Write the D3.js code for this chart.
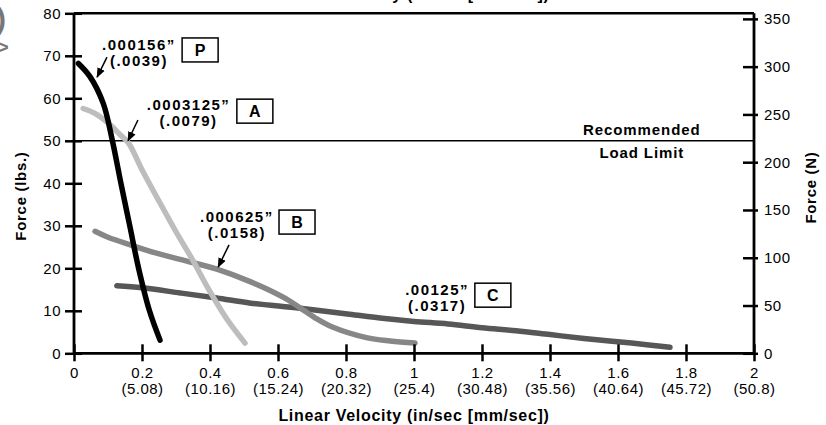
<!DOCTYPE html>
<html>
<head>
<meta charset="utf-8">
<script src="https://cdn.jsdelivr.net/npm/d3@7"></script>
<style>
body { margin: 0; background: #fff; }
svg text { font-family: "Liberation Sans", Arial, sans-serif; fill: #000; }
.tickText { font-size: 15px; letter-spacing: 0.5px; }
.axisTitle { font-size: 16px; font-weight: bold; letter-spacing: 0.7px; }
.note { font-size: 15px; font-weight: bold; letter-spacing: 1.5px; }
.limitText { font-size: 15px; font-weight: bold; letter-spacing: 0.9px; }
</style>
</head>
<body>
<div id="chart"></div>
<script>
// ---- chart values ----
var seriesNames = ["P", "A", "B", "C"];
var pitchInch = [".000156\u201d", ".0003125\u201d", ".000625\u201d", ".00125\u201d"];
var pitchMm = ["(.0039)", "(.0079)", "(.0158)", "(.0317)"];
var seriesColors = ["#000000", "#bdbdbd", "#878787", "#575757"];

// velocity (in/sec) and force (lbs.) per lead screw
var velP = [0.013, 0.047, 0.086, 0.113, 0.138, 0.164, 0.19, 0.222, 0.253];
var forceP = [68.2, 65.1, 58.8, 50, 40, 30, 20, 10, 3.1];
var velA = [0.027, 0.06, 0.1, 0.135, 0.16, 0.2, 0.25, 0.3, 0.35, 0.4, 0.45, 0.503];
var forceA = [57.6, 56.5, 54.2, 51.5, 49.5, 43.2, 35.8, 28.6, 21.8, 14.5, 8, 2.4];
var velB = [0.062, 0.1, 0.174, 0.224, 0.312, 0.42, 0.52, 0.615, 0.665, 0.71, 0.76, 0.86, 0.93, 1.003];
var forceB = [28.7, 27.3, 25.3, 24.0, 22.1, 19.8, 16.8, 13.2, 10.7, 8.3, 6.2, 3.7, 2.9, 2.4];
var velC = [0.126, 0.2, 0.312, 0.42, 0.52, 0.665, 0.81, 0.9, 1.0, 1.1, 1.2, 1.3, 1.4, 1.5, 1.64, 1.753];
var forceC = [15.9, 15.4, 14.2, 13, 11.8, 10.6, 9.2, 8.3, 7.5, 6.9, 6.0, 5.3, 4.4, 3.5, 2.4, 1.4];

// axis ticks
var xTicks = [0, 0.2, 0.4, 0.6, 0.8, 1, 1.2, 1.4, 1.6, 1.8, 2];
var xTickLabels = ["0", "0.2", "0.4", "0.6", "0.8", "1", "1.2", "1.4", "1.6", "1.8", "2"];
var xTickLabelsMm = ["", "(5.08)", "(10.16)", "(15.24)", "(20.32)", "(25.4)", "(30.48)", "(35.56)", "(40.64)", "(45.72)", "(50.8)"];
var yTicksLbs = [0, 10, 20, 30, 40, 50, 60, 70, 80];
var yTicksN = [0, 50, 100, 150, 200, 250, 300, 350];
var loadLimit = 50;
var lbsToN = 4.448;

// where each note sits, in data units: [text centre x, text y, box x, box y, arrow from x, from y, arrow to x, to y]
var noteSpots = [
    [0.191, 71.4, 0.318, 74.2, 0.097, 69.7, 0.068, 65.0],
    [0.337, 57.25, 0.479, 59.8, 0.188, 54.9, 0.159, 50.0],
    [0.479, 30.9, 0.603, 33.7, 0.456, 25.5, 0.424, 20.3],
    [1.068, 13.7, 1.179, 16.5, null, null, null, null]
];

var series = [
    {name: "P", vel: velP, force: forceP},
    {name: "A", vel: velA, force: forceA},
    {name: "B", vel: velB, force: forceB},
    {name: "C", vel: velC, force: forceC}
];

// ---- layout ----
var width = 826, height = 425;
var margin = {top: 13.3, right: 72, bottom: 71.7, left: 74};

var svg = d3.select("#chart").append("svg")
    .attr("width", width)
    .attr("height", height);

var xScale = d3.scaleLinear().domain([0, 2]).range([margin.left, width - margin.right]);
var yScale = d3.scaleLinear().domain([0, 80]).range([height - margin.bottom, margin.top]);
var yScaleN = d3.scaleLinear().domain([0, 80 * lbsToN]).range([height - margin.bottom, margin.top]);

// leftover bits of a clipped title at the top edge
svg.append("text")
    .attr("x", xScale(1))
    .attr("y", 0)
    .attr("text-anchor", "middle")
    .classed("axisTitle", true)
    .text("Linear Velocity (in/sec [mm/sec])");
svg.append("text").attr("x", -4).attr("y", 29)
    .style("font-size", "30px").style("font-weight", "bold").style("fill", "#777")
    .text(")");
svg.append("text").attr("x", -3).attr("y", 54)
    .style("font-size", "20px").style("font-weight", "bold").style("fill", "#777")
    .text(">");

// recommended load limit
svg.append("line")
    .attr("x1", xScale(0)).attr("x2", xScale(2))
    .attr("y1", yScale(loadLimit)).attr("y2", yScale(loadLimit))
    .style("stroke", "#000").style("stroke-width", 1.5);
svg.append("text")
    .attr("x", xScale(1.67)).attr("y", yScale(loadLimit) - 6)
    .attr("text-anchor", "middle").classed("limitText", true)
    .text("Recommended");
svg.append("text")
    .attr("x", xScale(1.67)).attr("y", yScale(loadLimit) + 17)
    .attr("text-anchor", "middle").classed("limitText", true)
    .text("Load Limit");

// curves
var line = d3.line()
    .x(function(d){ return xScale(d[0]); })
    .y(function(d){ return yScale(d[1]); })
    .curve(d3.curveCatmullRom.alpha(0.5));

// draw C first so the lighter ones overlay the way they do in the picture
var drawOrder = [3, 2, 1, 0];
drawOrder.forEach(function(i){
    var s = series[i];
    var pts = s.vel.map(function(v, j){ return [v, s.force[j]]; });
    svg.append("path")
        .attr("d", line(pts))
        .style("fill", "none")
        .style("stroke", seriesColors[i])
        .style("stroke-width", 5.5)
        .style("stroke-linecap", "round");
});

// frame top line
svg.append("line")
    .attr("x1", xScale(0)).attr("x2", xScale(2))
    .attr("y1", yScale(80)).attr("y2", yScale(80))
    .style("stroke", "#000").style("stroke-width", 2.5);

// left axis
var leftAxis = svg.append("g")
    .attr("transform", "translate(" + xScale(0) + ",0)")
    .call(d3.axisLeft(yScale).tickValues(yTicksLbs).tickFormat(d3.format("d")).tickSize(9).tickPadding(4));
leftAxis.selectAll(".tick line").attr("x2", -9).attr("x1", 8).style("stroke-width", 2.5);

// right axis
var rightAxis = svg.append("g")
    .attr("transform", "translate(" + xScale(2) + ",0)")
    .call(d3.axisRight(yScaleN).tickValues(yTicksN).tickFormat(d3.format("d")).tickSize(4).tickPadding(6));
rightAxis.selectAll(".tick line").attr("x1", -11).attr("x2", 4).style("stroke-width", 2.5);

// bottom axis
var bottomAxis = svg.append("g")
    .attr("transform", "translate(0," + yScale(0) + ")")
    .call(d3.axisBottom(xScale).tickValues(xTicks).tickFormat(function(d, i){ return xTickLabels[i]; }).tickSize(8).tickPadding(6));
bottomAxis.selectAll(".tick line").attr("y1", -9).attr("y2", 8).style("stroke-width", 2.5);
bottomAxis.selectAll(".tick").append("text")
    .attr("y", 41)
    .attr("fill", "#000")
    .classed("tickText", true)
    .text(function(d, i){ return xTickLabelsMm[i]; });

[leftAxis, rightAxis, bottomAxis].forEach(function(ax){
    ax.select(".domain").style("stroke-width", 2.8).attr("d", null);
    ax.selectAll("text").classed("tickText", true).attr("font-family", null).attr("font-size", null);
});
leftAxis.select(".domain").attr("d", "M0," + yScale(0) + "V" + yScale(80));
rightAxis.select(".domain").attr("d", "M0," + yScale(0) + "V" + yScale(80));
bottomAxis.select(".domain").attr("d", "M" + xScale(0) + ",0H" + xScale(2));

// axis titles
svg.append("text")
    .attr("x", xScale(1)).attr("y", 421)
    .attr("text-anchor", "middle").classed("axisTitle", true)
    .text("Linear Velocity (in/sec [mm/sec])");
svg.append("text")
    .attr("transform", "translate(26," + yScale(37) + ") rotate(-90)")
    .attr("text-anchor", "middle").classed("axisTitle", true)
    .style("font-size", "15px")
    .text("Force (lbs.)");
svg.append("text")
    .attr("transform", "translate(816," + yScale(39) + ") rotate(-90)")
    .attr("text-anchor", "middle").classed("axisTitle", true)
    .style("font-size", "15px")
    .text("Force (N)");

// arrow head
svg.append("defs").append("marker")
    .attr("id", "arrow")
    .attr("viewBox", "0 0 10 10")
    .attr("refX", 9).attr("refY", 5)
    .attr("markerWidth", 10).attr("markerHeight", 10)
    .attr("markerUnits", "userSpaceOnUse")
    .attr("orient", "auto")
    .append("path")
    .attr("d", "M0,1L10,5L0,9Z")
    .style("fill", "#000");

// notes with pitch values and the letter boxes
noteSpots.forEach(function(n, i){
    var g = svg.append("g");
    g.append("text")
        .attr("x", xScale(n[0])).attr("y", yScale(n[1]))
        .attr("text-anchor", "middle").classed("note", true)
        .text(pitchInch[i]);
    g.append("text")
        .attr("x", xScale(n[0])).attr("y", yScale(n[1]) + 16)
        .attr("text-anchor", "middle").classed("note", true)
        .text(pitchMm[i]);
    g.append("rect")
        .attr("x", xScale(n[2])).attr("y", yScale(n[3]))
        .attr("width", 36).attr("height", 24)
        .style("fill", "#fff").style("stroke", "#000").style("stroke-width", 1.5);
    g.append("text")
        .attr("x", xScale(n[2]) + 18).attr("y", yScale(n[3]) + 18)
        .attr("text-anchor", "middle")
        .style("font-size", "16px").style("font-weight", "bold")
        .text(seriesNames[i]);
    if (n[4] !== null) {
        g.append("line")
            .attr("x1", xScale(n[4])).attr("y1", yScale(n[5]))
            .attr("x2", xScale(n[6])).attr("y2", yScale(n[7]))
            .style("stroke", "#000").style("stroke-width", 1.5)
            .attr("marker-end", "url(#arrow)");
    }
});
</script>
</body>
</html>
